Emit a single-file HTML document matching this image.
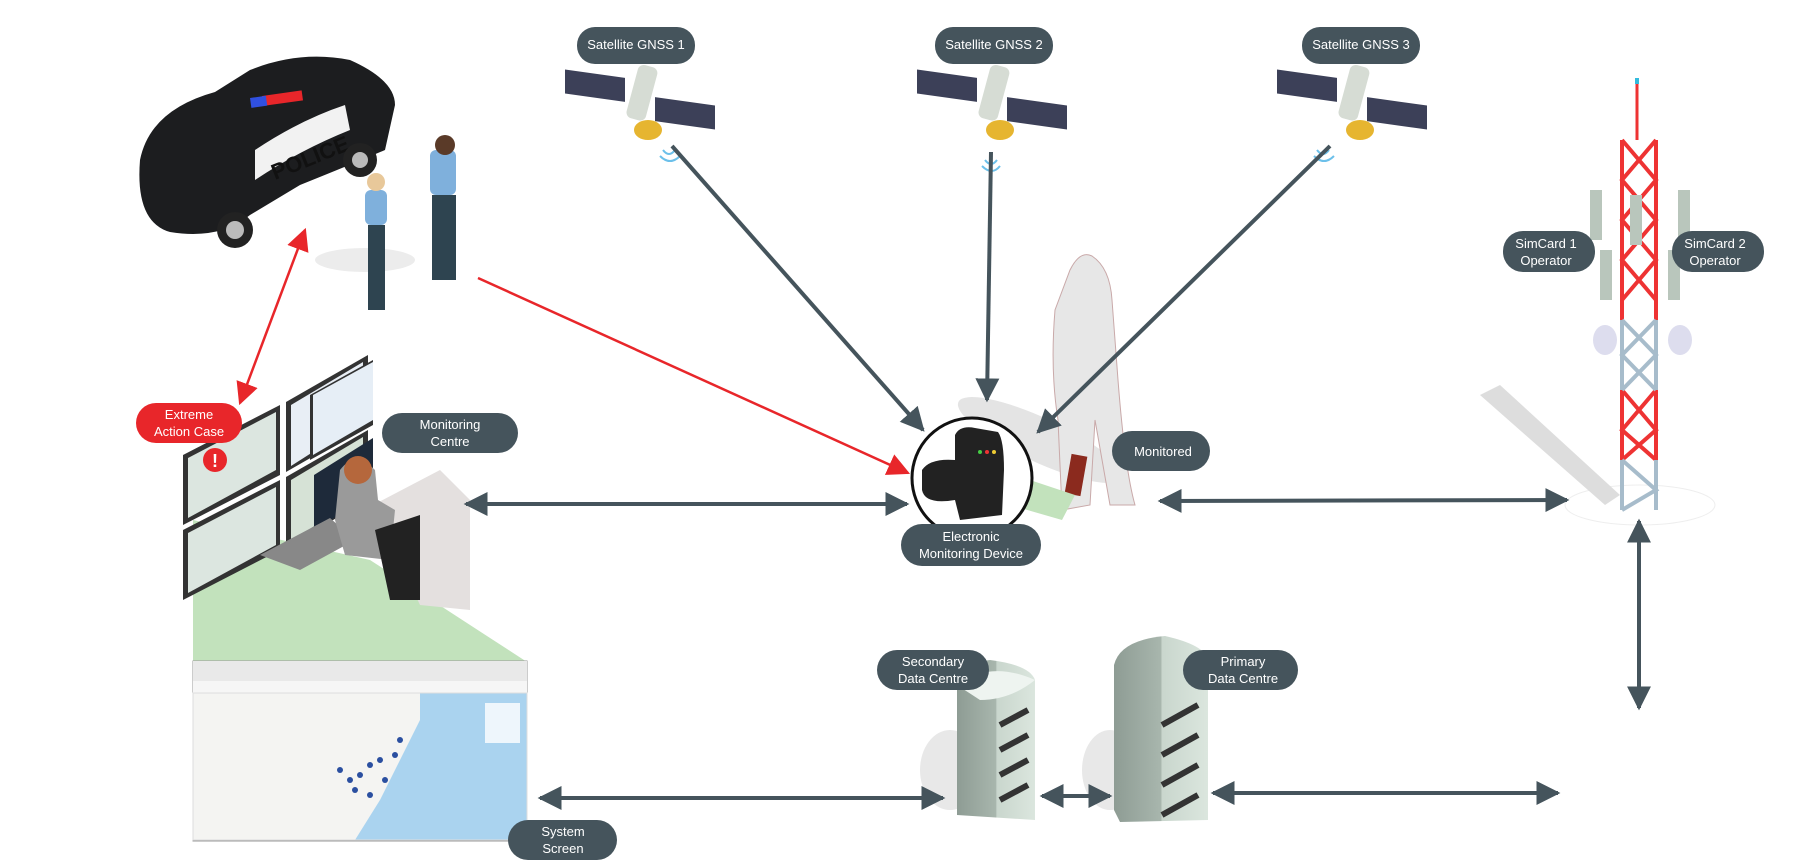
<!DOCTYPE html>
<html><head><meta charset="utf-8"><style>
html,body{margin:0;padding:0;background:#fff;}
svg{display:block;}
text{font-family:"Liberation Sans",sans-serif;}
</style></head><body>
<svg width="1820" height="863" viewBox="0 0 1820 863" xmlns="http://www.w3.org/2000/svg">
<defs>
<marker id="ag" viewBox="0 0 10 10" refX="9" refY="5" markerWidth="6" markerHeight="6" orient="auto-start-reverse" markerUnits="strokeWidth"><path d="M0,0L10,5L0,10z" fill="#45545c"/></marker>
<marker id="ar" viewBox="0 0 10 10" refX="9" refY="5" markerWidth="9" markerHeight="9" orient="auto-start-reverse" markerUnits="strokeWidth"><path d="M0,0L10,5L0,10z" fill="#e8262a"/></marker>
<linearGradient id="srv" x1="0" x2="1"><stop offset="0" stop-color="#8e9c94"/><stop offset="0.5" stop-color="#a8b6ad"/><stop offset="0.51" stop-color="#c9d6cd"/><stop offset="1" stop-color="#dbe6de"/></linearGradient>
<g id="sat">
<rect x="-75" y="-20" width="60" height="24" fill="#3c4058" transform="skewY(8)"/>
<rect x="15" y="-5" width="60" height="24" fill="#3c4058" transform="skewY(8)"/>
<rect x="-10" y="-35" width="20" height="55" rx="6" fill="#d6dcd4" transform="rotate(15)"/>
<ellipse cx="8" cy="30" rx="14" ry="10" fill="#e6b530"/>
</g>
</defs>

<!-- Green projection -->
<polygon points="193,520 370,560 527,662 193,662" fill="#c2e2bc"/>

<!-- Police car -->
<g>
<path d="M140,160 Q150,110 215,92 L250,70 Q300,50 350,60 Q395,80 395,105 L385,150 Q350,165 300,185 L250,215 Q220,240 170,232 Q135,222 140,160z" fill="#1c1d1f"/>
<path d="M255,180 Q300,150 350,130 L345,105 Q300,120 255,150z" fill="#f2f2f2"/>
<text x="275" y="180" font-size="22" font-weight="bold" fill="#111" transform="rotate(-22 275 180)">POLICE</text>
<rect x="262" y="96" width="40" height="10" fill="#e8262a" transform="rotate(-8 262 96)"/>
<rect x="250" y="98" width="16" height="10" fill="#3050e0" transform="rotate(-8 250 98)"/>
<circle cx="235" cy="230" r="18" fill="#222"/><circle cx="235" cy="230" r="9" fill="#bbb"/>
<circle cx="360" cy="160" r="17" fill="#222"/><circle cx="360" cy="160" r="8" fill="#bbb"/>
</g>
<!-- Officers -->
<g>
<ellipse cx="365" cy="260" rx="50" ry="12" fill="#ececec"/>
<rect x="365" y="190" width="22" height="35" rx="6" fill="#7fb0dc"/>
<rect x="368" y="225" width="17" height="85" fill="#2e4450"/>
<circle cx="376" cy="182" r="9" fill="#e8c89a"/>
<rect x="430" y="150" width="26" height="45" rx="6" fill="#7fb0dc"/>
<rect x="432" y="195" width="24" height="85" fill="#2e4450"/>
<circle cx="445" cy="145" r="10" fill="#5a3a28"/>
</g>

<!-- Monitors -->
<g>
<polygon points="183,455 280,405 280,475 183,525" fill="#333"/>
<polygon points="188,458 276,412 276,470 188,518" fill="#dce6e0"/>
<polygon points="183,530 280,480 280,550 183,600" fill="#333"/>
<polygon points="188,533 276,487 276,545 188,593" fill="#dce6e0"/>
<polygon points="286,402 368,355 368,425 286,472" fill="#333"/>
<polygon points="291,405 363,362 363,420 291,466" fill="#e8eef5"/>
<polygon points="286,477 368,430 368,500 286,547" fill="#333"/>
<polygon points="291,480 363,437 363,495 291,541" fill="#d6e2d6"/>
<polygon points="310,395 373,360 373,425 310,460" fill="#333"/>
<polygon points="313,395 373,362 373,420 313,455" fill="#e6eef6"/>
<polygon points="314,475 373,438 373,495 314,530" fill="#1e2a3a"/>
<circle cx="215" cy="460" r="12" fill="#e8262a"/>
<text x="215" y="467" font-size="18" font-weight="bold" fill="#fff" text-anchor="middle">!</text>
</g>
<!-- Desk & operator -->
<polygon points="373,505 440,470 470,500 470,610 420,605" fill="#e4e0df"/>
<polygon points="260,555 330,518 355,540 300,570" fill="#888"/>
<path d="M340,470 Q355,450 375,470 L378,500 L395,510 L390,560 L345,555 L335,520z" fill="#9a9a9a"/>
<circle cx="358" cy="470" r="14" fill="#b5673c"/>
<polygon points="375,530 420,515 420,600 390,600" fill="#222"/>

<!-- System screen -->
<rect x="193" y="661" width="334" height="180" fill="#f4f4f2" stroke="#999" stroke-width="1"/>
<rect x="193" y="661" width="334" height="20" fill="#e9e9e9"/>
<rect x="193" y="681" width="334" height="12" fill="#f6f6f6"/>
<polygon points="420,693 527,693 527,840 355,840 380,800 400,760 420,720" fill="#aad3ef"/>
<rect x="193" y="693" width="334" height="147" fill="none" stroke="#ddd"/>
<g fill="#2a4fa0"><circle cx="340" cy="770" r="3"/><circle cx="350" cy="780" r="3"/><circle cx="360" cy="775" r="3"/><circle cx="370" cy="765" r="3"/><circle cx="380" cy="760" r="3"/><circle cx="395" cy="755" r="3"/><circle cx="385" cy="780" r="3"/><circle cx="400" cy="740" r="3"/><circle cx="355" cy="790" r="3"/><circle cx="370" cy="795" r="3"/></g>
<rect x="485" y="703" width="35" height="40" fill="#fff" opacity="0.8"/>

<!-- Satellites -->
<use href="#sat" transform="translate(640,100)"/>
<use href="#sat" transform="translate(992,100)"/>
<use href="#sat" transform="translate(1352,100)"/>
<g fill="none" stroke="#6cc0ea" stroke-width="2"><path d="M663,150 q6,8 12,0"/><path d="M660,156 q10,10 20,0"/><path d="M985,160 q6,8 12,0"/><path d="M982,166 q10,10 18,0"/><path d="M1317,150 q6,8 12,0"/><path d="M1314,156 q10,10 20,0"/></g>

<!-- Monitored person -->
<ellipse cx="1040" cy="440" rx="90" ry="22" fill="#e4e4e4" transform="rotate(25 1040 440)"/>
<path d="M1070,270 Q1080,250 1092,256 Q1110,268 1112,300 L1118,380 Q1125,470 1135,505 L1110,505 L1095,420 L1090,505 L1062,510 L1058,420 Q1050,370 1055,310z" fill="#e7e7e7" stroke="#c9a9a9" stroke-width="1"/>
<rect x="1068" y="455" width="16" height="40" fill="#8b2a1e" transform="rotate(10 1076 475)"/>
<polygon points="1000,470 1075,495 1062,520 1010,505" fill="#c2e2bc"/>

<!-- Device circle -->
<circle cx="972" cy="478" r="60" fill="#fff" stroke="#111" stroke-width="3"/>
<path d="M955,435 Q960,425 975,428 L998,432 Q1004,440 1004,470 L1002,515 L960,520 L955,500 Q925,505 922,490 L922,470 Q930,458 955,460z" fill="#222"/>
<circle cx="980" cy="452" r="2" fill="#4c4"/><circle cx="987" cy="452" r="2" fill="#e33"/><circle cx="994" cy="452" r="2" fill="#ec3"/>

<!-- Tower -->
<g>
<ellipse cx="1640" cy="505" rx="75" ry="20" fill="none" stroke="#eee"/>
<polygon points="1480,395 1500,385 1620,495 1605,505" fill="#ddd"/>
<line x1="1637" y1="80" x2="1637" y2="140" stroke="#e33" stroke-width="3"/>
<rect x="1635" y="78" width="4" height="6" fill="#3bd"/>
<g stroke="#e33" stroke-width="4" fill="none">
<line x1="1622" y1="140" x2="1622" y2="320"/><line x1="1656" y1="140" x2="1656" y2="320"/>
<path d="M1622,140 L1656,180 L1622,220 L1656,260 L1622,300 M1656,140 L1622,180 L1656,220 L1622,260 L1656,300"/>
<line x1="1622" y1="390" x2="1622" y2="460"/><line x1="1656" y1="390" x2="1656" y2="460"/>
<path d="M1622,390 L1656,430 L1622,460 M1656,390 L1622,430 L1656,460"/>
</g>
<g stroke="#a7bccb" stroke-width="4" fill="none">
<line x1="1622" y1="320" x2="1622" y2="390"/><line x1="1656" y1="320" x2="1656" y2="390"/>
<path d="M1622,320 L1656,355 L1622,390 M1656,320 L1622,355 L1656,390"/>
<line x1="1622" y1="460" x2="1622" y2="510"/><line x1="1656" y1="460" x2="1656" y2="510"/>
<path d="M1622,460 L1656,490 L1622,510"/>
</g>
<g fill="#b9c6bc"><rect x="1590" y="190" width="12" height="50"/><rect x="1678" y="190" width="12" height="50"/><rect x="1600" y="250" width="12" height="50"/><rect x="1668" y="250" width="12" height="50"/><rect x="1630" y="195" width="12" height="50"/></g>
<ellipse cx="1605" cy="340" rx="12" ry="15" fill="#dde"/><ellipse cx="1680" cy="340" rx="12" ry="15" fill="#dde"/>
</g>

<!-- Servers -->
<g>
<ellipse cx="950" cy="770" rx="30" ry="40" fill="#e8e8e8"/>
<path d="M957,685 Q957,665 990,660 Q1030,665 1035,680 L1035,820 L957,815z" fill="url(#srv)"/>
<path d="M957,685 Q990,660 1035,680 Q1010,700 980,700z" fill="#eef4f0"/>
<ellipse cx="1110" cy="770" rx="28" ry="40" fill="#e8e8e8"/>
<path d="M1114,665 Q1120,640 1165,636 Q1205,645 1208,660 L1208,820 L1120,822 L1114,810z" fill="url(#srv)"/>
<g stroke="#333" stroke-width="6"><line x1="1000" y1="725" x2="1028" y2="710"/><line x1="1000" y1="750" x2="1028" y2="735"/><line x1="1000" y1="775" x2="1028" y2="760"/><line x1="1000" y1="800" x2="1028" y2="785"/>
<line x1="1162" y1="725" x2="1198" y2="705"/><line x1="1162" y1="755" x2="1198" y2="735"/><line x1="1162" y1="785" x2="1198" y2="765"/><line x1="1162" y1="815" x2="1198" y2="795"/></g>
</g>

<!-- Gray connectors -->
<g stroke="#45545c" stroke-width="4" fill="none" marker-end="url(#ag)">
<line x1="672" y1="146" x2="923" y2="430"/>
<line x1="991" y1="152" x2="987" y2="400"/>
<line x1="1330" y1="146" x2="1038" y2="432"/>
</g>
<g stroke="#45545c" stroke-width="4" fill="none" marker-end="url(#ag)" marker-start="url(#ag)">
<line x1="466" y1="504" x2="907" y2="504"/>
<line x1="1160" y1="501" x2="1567" y2="500"/>
<line x1="1639" y1="521" x2="1639" y2="708"/>
<line x1="540" y1="798" x2="943" y2="798"/>
<line x1="1042" y1="796" x2="1110" y2="796"/>
<line x1="1213" y1="793" x2="1558" y2="793"/>
</g>
<!-- Red connectors -->
<g stroke="#e8262a" stroke-width="2.5" fill="none" marker-end="url(#ar)" marker-start="url(#ar)">
<line x1="305" y1="230" x2="240" y2="403"/>
</g>
<line x1="478" y1="278" x2="908" y2="473" stroke="#e8262a" stroke-width="2.5" marker-end="url(#ar)"/>

<!-- Labels -->
<g font-size="13" fill="#fff" text-anchor="middle">
<rect x="577" y="27" width="118" height="37" rx="18" fill="#45545c"/><text x="636" y="49">Satellite GNSS 1</text>
<rect x="935" y="27" width="118" height="37" rx="18" fill="#45545c"/><text x="994" y="49">Satellite GNSS 2</text>
<rect x="1302" y="27" width="118" height="37" rx="18" fill="#45545c"/><text x="1361" y="49">Satellite GNSS 3</text>
<rect x="382" y="413" width="136" height="40" rx="20" fill="#45545c"/><text x="450" y="429">Monitoring</text><text x="450" y="446">Centre</text>
<rect x="136" y="403" width="106" height="40" rx="20" fill="#e8262a"/><text x="189" y="419">Extreme</text><text x="189" y="436">Action Case</text>
<rect x="1112" y="431" width="98" height="40" rx="20" fill="#45545c"/><text x="1163" y="456">Monitored</text>
<rect x="901" y="524" width="140" height="42" rx="21" fill="#45545c"/><text x="971" y="541">Electronic</text><text x="971" y="558">Monitoring Device</text>
<rect x="508" y="820" width="109" height="40" rx="20" fill="#45545c"/><text x="563" y="836">System</text><text x="563" y="853">Screen</text>
<rect x="877" y="650" width="112" height="40" rx="20" fill="#45545c"/><text x="933" y="666">Secondary</text><text x="933" y="683">Data Centre</text>
<rect x="1183" y="650" width="115" height="40" rx="20" fill="#45545c"/><text x="1243" y="666">Primary</text><text x="1243" y="683">Data Centre</text>
<rect x="1503" y="231" width="92" height="41" rx="20" fill="#45545c"/><text x="1546" y="248">SimCard 1</text><text x="1546" y="265">Operator</text>
<rect x="1672" y="231" width="92" height="41" rx="20" fill="#45545c"/><text x="1715" y="248">SimCard 2</text><text x="1715" y="265">Operator</text>
</g>
</svg>
</body></html>
